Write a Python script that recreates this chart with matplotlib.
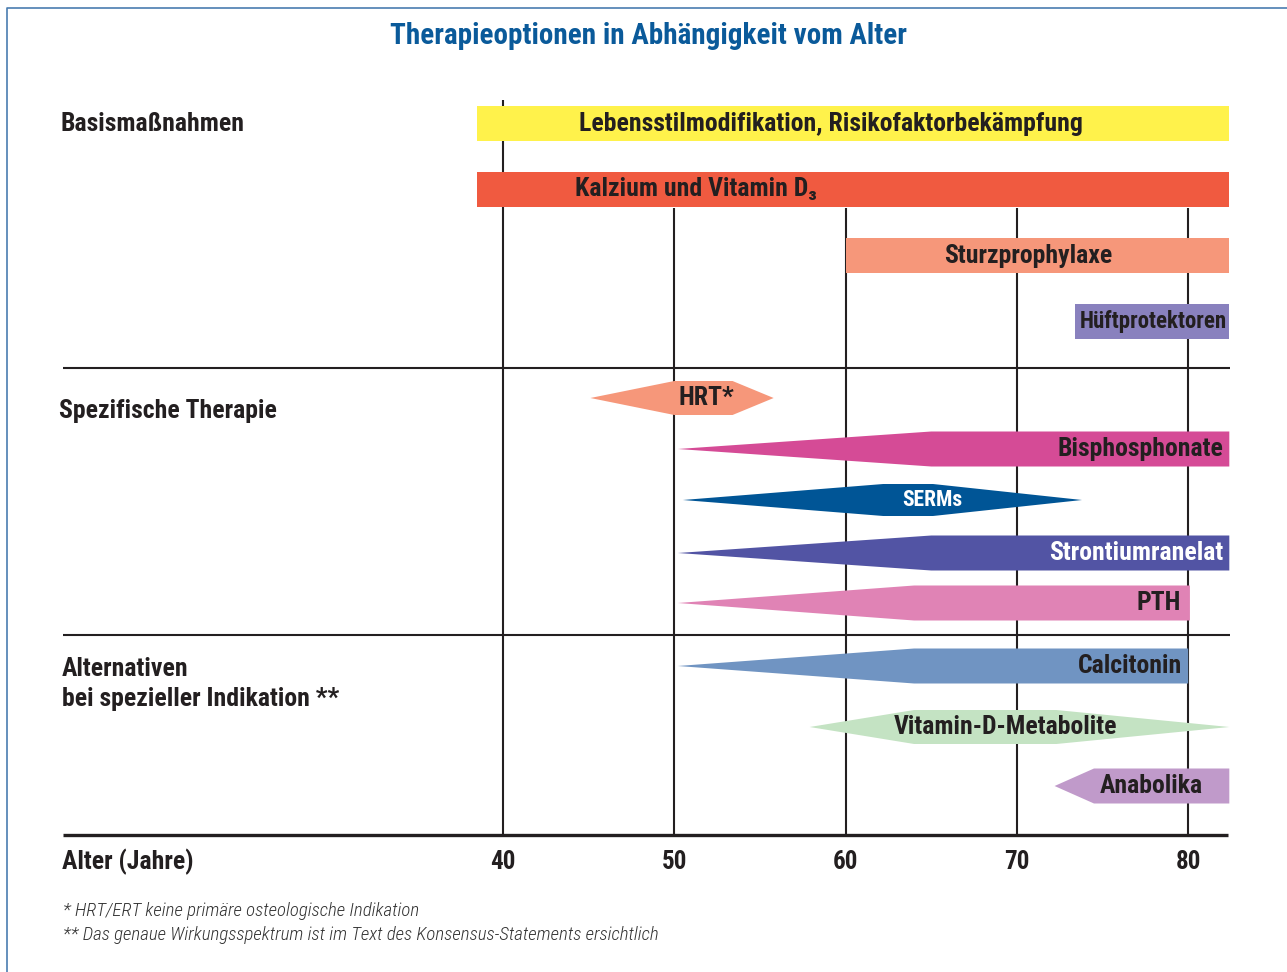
import matplotlib
matplotlib.use("Agg")
import matplotlib.pyplot as plt
from matplotlib import font_manager
from matplotlib.patches import Polygon

# ── Data ────────────────────────────────────────────────
ticks = [40, 50, 60, 70, 80]
therapies = [
    "Lebensstilmodifikation, Risikofaktorbekämpfung",
    "Kalzium und Vitamin D\u2083",
    "Sturzprophylaxe",
    "Hüftprotektoren",
    "HRT*",
    "Bisphosphonate",
    "SERMs",
    "Strontiumranelat",
    "PTH",
    "Calcitonin",
    "Vitamin-D-Metabolite",
    "Anabolika",
]
# ages: pointed start, full width from, full width to, pointed end
tip_start = [38.5, 38.5, 60.0, 73.4, 45.1, 50.2, 50.5, 50.2, 50.2, 50.2, 57.9, 72.2]
full_from = [38.5, 38.5, 60.0, 73.4, 50.0, 65.0, 62.2, 65.0, 64.0, 64.0, 64.0, 74.5]
full_to = [82.4, 82.4, 82.4, 82.4, 53.4, 82.4, 65.1, 82.4, 80.1, 80.0, 72.3, 82.4]
tip_end = [82.4, 82.4, 82.4, 82.4, 55.8, 82.4, 73.8, 82.4, 80.1, 80.0, 82.4, 82.4]
groups = ["Basismaßnahmen", "Spezifische Therapie",
          "Alternativen\nbei spezieller Indikation **"]
footnotes = ["* HRT/ERT keine primäre osteologische Indikation",
             "** Das genaue Wirkungsspektrum ist im Text des Konsensus-Statements ersichtlich"]

colors = ["#FFF24B", "#F05A40", "#F6977A", "#8981BE", "#F6977A", "#D54B96",
          "#005596", "#5254A4", "#E083B5", "#7094C2", "#C4E3C3", "#C09ACA"]
text_colors = ["#231F20"] * 12
text_colors[6] = "white"
text_colors[7] = "white"

# ── Layout (pixel based) ─────────────────────────────────
W, H = 1287, 972
PX40, PPY = 503, 17.13


def age(px):
    return 40 + (px - PX40) / PPY


row_y = [123.5, 189.5, 255.5, 321.5, 398, 449, 500, 553, 603, 666, 727, 786]
row_h = [35, 35, 35, 35, 34, 35, 32, 35, 35, 35, 34, 35]
label_pos = [(831, "center"), (575, "left"), (1028, "center"), (1153, "center"),
             (706, "center"), (1223, "right"), (932, "center"), (1223, "right"),
             (1181, "right"), (1182, "right"), (1005, "center"), (1151, "center")]
label_size = [18.5, 18.5, 18.5, 16.5, 18.5, 18.5, 15.5, 18.5, 18.5, 18.5, 18.5, 18.5]

names = {f.name for f in font_manager.fontManager.ttflist}
base = next((f for f in ["Liberation Sans Narrow", "Roboto Condensed", "Open Sans Condensed"]
             if f in names), "DejaVu Sans")
plt.rcParams["font.family"] = [base, "DejaVu Sans"]

fig = plt.figure(figsize=(W / 100, H / 100), dpi=100)
ax = fig.add_axes([0, 0, 1, 1])
ax.set_xlim(age(0), age(W))
ax.set_ylim(H, 0)
ax.axis("off")

dark = "#231F20"

# frame (cut off at right and bottom)
ax.plot([age(7), age(7), age(W)], [H, 8, 8], color="#4A7DB0", lw=1.2, zorder=1)

ax.text(age(648), 36, "Therapieoptionen in Abhängigkeit vom Alter", ha="center", va="center",
        fontsize=21, fontweight="bold", color="#0A5A9A")

# grid lines
for t in ticks:
    ax.vlines(t, 100 if t == 40 else 208, 835, color=dark, lw=1.5, zorder=1)
    ax.text(t, 862, str(t), ha="center", va="center", fontsize=18,
            fontweight="bold", color=dark)
for y in [368, 635]:
    ax.hlines(y, age(63), age(1230), color=dark, lw=1.5, zorder=1)
ax.hlines(835, age(63), age(1228), color=dark, lw=2.4, zorder=1)

# group labels
ax.text(age(60), 124, groups[0], ha="left", va="center", fontsize=18.5, fontweight="bold", color=dark)
ax.text(age(59), 411, groups[1], ha="left", va="center", fontsize=18.5, fontweight="bold", color=dark)
ax.text(age(62), 684, groups[2], ha="left", va="center", fontsize=18.5, fontweight="bold",
        color=dark, linespacing=1.35)
ax.text(age(62), 862, "Alter (Jahre)", ha="left", va="center", fontsize=18.5,
        fontweight="bold", color=dark)

# therapy shapes
for i, name in enumerate(therapies):
    yc, h = row_y[i], row_h[i]
    pts = [(tip_start[i], yc), (full_from[i], yc - h / 2), (full_to[i], yc - h / 2),
           (tip_end[i], yc), (full_to[i], yc + h / 2), (full_from[i], yc + h / 2)]
    ax.add_patch(Polygon(pts, closed=True, facecolor=colors[i], edgecolor="none", zorder=2))
    px, ha = label_pos[i]
    ax.text(age(px), yc, name, ha=ha, va="center", fontsize=label_size[i],
            fontweight="bold", color=text_colors[i], zorder=3)

# footnotes
for k, note in enumerate(footnotes):
    ax.text(age(63), 911 + 24 * k, note, ha="left", va="center", fontsize=13.6,
            style="italic", fontweight="light", color="#333333")

fig.savefig("out.png", dpi=100, facecolor="white")
